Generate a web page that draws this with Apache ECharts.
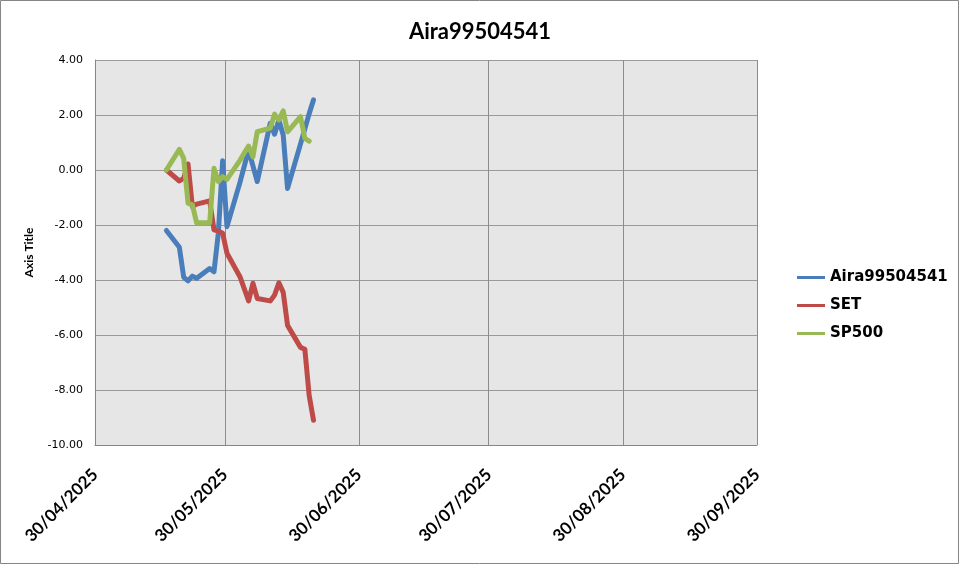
<!DOCTYPE html>
<html><head><meta charset="utf-8">
<script src="https://cdn.jsdelivr.net/npm/echarts@6/dist/echarts.min.js"></script>
<style>html,body{margin:0;padding:0;background:#fff}#c{width:960px;height:565px}</style>
</head><body><div id="c"></div>
<script>
// ---- data ----
const chartTitle = 'Aira99504541';
const seriesNames = ['Aira99504541', 'SET', 'SP500'];
const dates = ['2025-05-16','2025-05-19','2025-05-20','2025-05-21','2025-05-22','2025-05-23',
  '2025-05-26','2025-05-27','2025-05-28','2025-05-29','2025-05-30',
  '2025-06-02','2025-06-03','2025-06-04','2025-06-05','2025-06-06',
  '2025-06-09','2025-06-10','2025-06-11','2025-06-12','2025-06-13',
  '2025-06-16','2025-06-17','2025-06-18','2025-06-19'];
const airaValues = [-2.20,-2.81,-3.90,-4.03,-3.86,-3.94,-3.58,-3.70,-2.30,0.34,-2.06,
  -0.45,null,0.73,0.15,-0.42,1.70,1.30,1.82,1.27,-0.67,0.95,1.50,2.05,2.55];
const setValues = [0.00,-0.40,-0.30,0.22,-1.33,-1.24,-1.12,-2.18,-2.22,-2.30,-3.03,
  -3.88,null,-4.76,-4.12,-4.67,-4.76,-4.55,-4.10,-4.45,-5.65,-6.45,-6.52,-8.20,-9.10];
const sp500Values = [0.00,0.75,0.42,-1.21,-1.27,-1.92,-1.92,0.06,-0.42,-0.24,-0.34,
  0.35,0.62,0.87,0.48,1.39,1.52,2.03,1.82,2.15,1.39,1.94,1.15,1.05,null];
const xTickDates = ['2025-04-30','2025-05-30','2025-06-30','2025-07-30','2025-08-30','2025-09-30'];
const yMin = -10, yMax = 4, yStep = 2;
const axisTitle = 'Axis Title';

// ---- build ----
function ts(s){const p=s.split('-').map(Number);return new Date(p[0],p[1]-1,p[2]).getTime();}
const HALF_DAY = 12*3600*1000; // Excel date axis places each day's point mid-slot
function pairs(vals){return dates.map((d,i)=>[ts(d)+HALF_DAY, vals[i]]);}
function pad(n){return (n<10?'0':'')+n;}
const xTicks = xTickDates.map(ts);
const colors = ['#4a7ebb','#be4b48','#98b954'];
const valueSets = [airaValues, setValues, sp500Values];

const chart = echarts.init(document.getElementById('c'), null, {renderer:'canvas'});
chart.setOption({
  animation:false,
  backgroundColor:'#ffffff',
  color: colors,
  title:{text:chartTitle,left:'center',top:16,
    textStyle:{fontFamily:'Lato',fontSize:22,fontWeight:'bold',color:'#000'}},
  graphic:[{type:'rect',shape:{x:0.5,y:0.5,width:958,height:563},
    style:{fill:'none',stroke:'#868686',lineWidth:1},silent:true}],
  legend:{orient:'vertical',left:792,top:265,icon:'rect',itemWidth:28,itemHeight:3,itemGap:13,
    textStyle:{fontFamily:'DejaVu Sans',fontSize:15,fontWeight:'bold',color:'#000'},
    data:seriesNames},
  grid:{left:95,right:203,top:60,bottom:120,show:true,backgroundColor:'#e6e6e6',borderWidth:0,containLabel:false},
  xAxis:{type:'value',min:xTicks[0],max:xTicks[xTicks.length-1],
    axisLine:{show:true,onZero:false,lineStyle:{color:'#868686',width:1}},
    axisTick:{show:false,customValues:xTicks},
    splitLine:{show:true,lineStyle:{color:'#8c8c8c',width:1}},
    axisLabel:{customValues:xTicks,rotate:45,margin:27,showMinLabel:true,showMaxLabel:true,
      fontFamily:'Lato',fontSize:17,fontWeight:'bold',color:'#000',
      formatter:function(v){const d=new Date(v);return pad(d.getDate())+'/'+pad(d.getMonth()+1)+'/'+d.getFullYear();}}
  },
  yAxis:{type:'value',min:yMin,max:yMax,interval:yStep,
    name:axisTitle,nameLocation:'middle',nameGap:60,nameRotate:90,
    nameTextStyle:{fontFamily:'Lato',fontSize:12,fontWeight:'bold',color:'#000'},
    axisLine:{show:true,lineStyle:{color:'#868686',width:1}},
    axisTick:{show:false},
    splitLine:{show:true,lineStyle:{color:'#9a9a9a',width:1}},
    axisLabel:{margin:12,fontFamily:'DejaVu Sans',fontSize:11,color:'#000',
      formatter:function(v){return v.toFixed(2);}}
  },
  series: seriesNames.map((n,i)=>({name:n,type:'line',data:pairs(valueSets[i]),
    symbol:'none',connectNulls:true,lineStyle:{width:5,color:colors[i],cap:'round',join:'round'},
    itemStyle:{color:colors[i]}}))
});
</script></body></html>
